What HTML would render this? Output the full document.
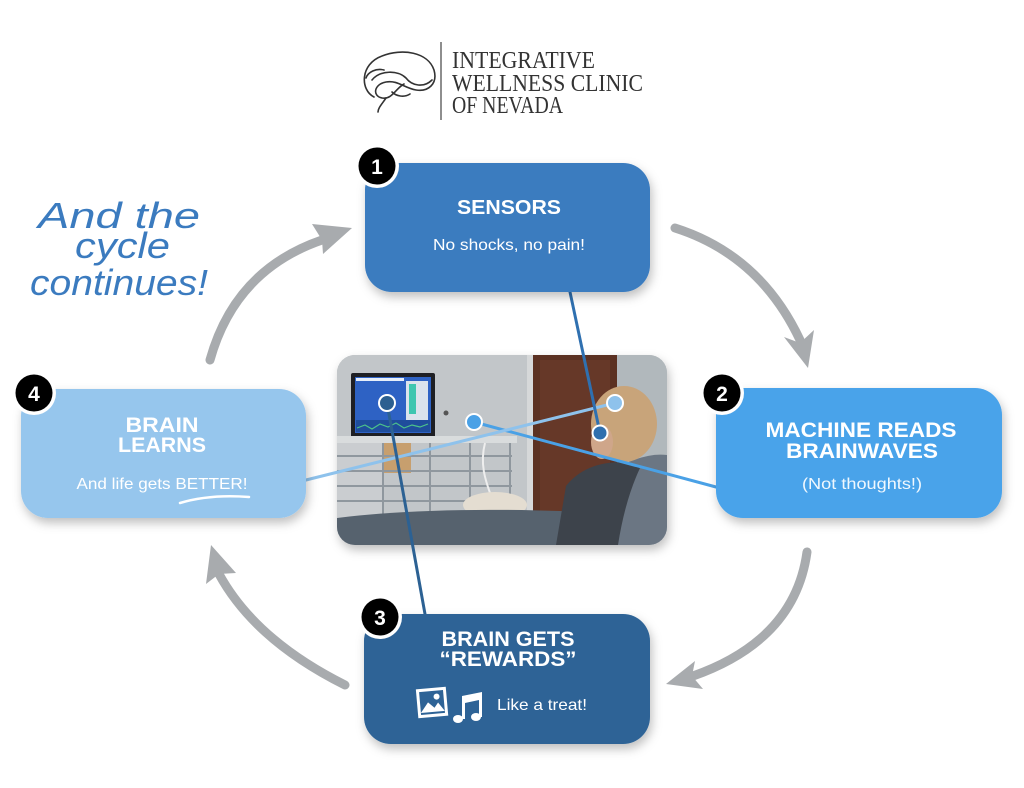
<!DOCTYPE html>
<html><head><meta charset="utf-8"><style>
html,body{margin:0;padding:0;background:#fff;}
svg{display:block;}
</style></head><body>
<svg width="1024" height="788" viewBox="0 0 1024 788" xmlns="http://www.w3.org/2000/svg">
<defs>
<filter id="sh" x="-20%" y="-20%" width="140%" height="160%"><feDropShadow dx="2" dy="5" stdDeviation="5" flood-color="#000" flood-opacity="0.25"/></filter>
<clipPath id="pc"><rect x="337" y="355" width="330" height="190" rx="18"/></clipPath>
</defs>
<rect width="1024" height="788" fill="#fff"/>

<!-- Logo -->
<g fill="none" stroke="#333" stroke-width="1.6" stroke-linecap="round">
<path d="M374,97 C360,90 360,64 382,56 C402,48 428,52 434,70 C438,84 428,92 416,90 C404,88 398,80 386,82 C374,84 372,96 382,98 C392,100 396,88 404,84"/>
<path d="M372,80 C380,70 398,70 406,78 C412,86 424,88 432,80"/>
<path d="M386,98 C382,104 378,108 378,112"/>
<path d="M366,78 C368,72 376,68 384,70"/>
<path d="M392,92 C396,96 404,98 410,94"/>
</g>
<line x1="441" y1="42" x2="441" y2="120" stroke="#444" stroke-width="1.2"/>
<g font-family="'Liberation Serif',serif" font-size="24" fill="#333">
<text x="452" y="68" textLength="143" lengthAdjust="spacingAndGlyphs">INTEGRATIVE</text>
<text x="452" y="91" textLength="191" lengthAdjust="spacingAndGlyphs">WELLNESS CLINIC</text>
<text x="452" y="113" textLength="111" lengthAdjust="spacingAndGlyphs">OF NEVADA</text>
</g>

<!-- Handwritten -->
<g font-family="'Liberation Sans',sans-serif" font-style="italic" font-size="36" fill="#3b7bbf">
<text x="38" y="228" textLength="162" lengthAdjust="spacingAndGlyphs">And the</text>
<text x="75" y="258" textLength="95" lengthAdjust="spacingAndGlyphs">cycle</text>
<text x="30" y="295" textLength="178" lengthAdjust="spacingAndGlyphs">continues!</text>
</g>

<!-- Arrows -->
<g fill="none" stroke="#a8abae" stroke-width="9" stroke-linecap="round">
<path d="M210,360 Q235,270 322,240"/>
<path d="M675,228 Q760,255 800,340"/>
<path d="M807,552 Q795,640 693,676"/>
<path d="M345,685 Q255,640 219,574"/>
</g>
<g fill="#a8abae">
<polygon points="352,228 312,224 322,240 323,254"/>
<polygon points="808,368 784,337 800,343 814,330"/>
<polygon points="666,684 695,661 692,676 703,689"/>
<polygon points="211,545 206,584 219,574 236,573"/>
</g>

<!-- Photo -->
<g filter="url(#sh)"><rect x="337" y="355" width="330" height="190" rx="18" fill="#b9bec2"/></g>
<g clip-path="url(#pc)">
<rect x="337" y="355" width="330" height="190" fill="#bcc1c4"/>
<rect x="337" y="355" width="190" height="190" fill="#c2c6c9"/>
<rect x="527" y="355" width="6" height="175" fill="#d6d8d9"/>
<rect x="533" y="355" width="84" height="175" fill="#5b3122"/>
<rect x="540" y="360" width="70" height="165" fill="#663828"/>
<rect x="617" y="355" width="50" height="190" fill="#b1b8bc"/>
<circle cx="446" cy="413" r="2.5" fill="#555"/>
<rect x="351" y="373" width="84" height="65" rx="2" fill="#1e1f24"/>
<rect x="355" y="377" width="76" height="56" fill="#2e62c4"/>
<rect x="356" y="378" width="48" height="3" fill="#e6eefa"/>
<rect x="406" y="381" width="22" height="40" fill="#dbe3ec"/>
<rect x="409" y="384" width="7" height="30" fill="#3ec6b0"/>
<rect x="356" y="420" width="74" height="12" fill="#1f4d9c"/>
<polyline points="357,428 365,425 372,429 380,424 388,427 396,423 404,428 412,425 420,427 428,424" fill="none" stroke="#4cc38a" stroke-width="1.2"/>
<rect x="337" y="436" width="180" height="7" fill="#d9dcdd"/>
<rect x="337" y="443" width="46" height="85" fill="#cacdd0"/>
<rect x="383" y="443" width="28" height="30" fill="#c79f6e"/>
<g stroke="#8f979e" stroke-width="2">
<line x1="337" y1="456" x2="512" y2="456"/>
<line x1="337" y1="471" x2="512" y2="471"/>
<line x1="337" y1="486" x2="512" y2="486"/>
<line x1="337" y1="501" x2="512" y2="501"/>
<line x1="383" y1="443" x2="383" y2="520"/>
<line x1="430" y1="443" x2="430" y2="520"/>
<line x1="470" y1="443" x2="470" y2="520"/>
<line x1="510" y1="443" x2="510" y2="520"/>
</g>
<path d="M485,443 C478,470 490,490 494,505" fill="none" stroke="#eee" stroke-width="2"/>
<ellipse cx="495" cy="505" rx="32" ry="13" fill="#e4ddd1"/>
<path d="M337,518 Q450,504 625,514 L625,545 L337,545 Z" fill="#56626e"/>
<path d="M612,470 Q645,452 667,455 L667,545 L612,545 Z" fill="#6b7683"/>
<path d="M556,545 L566,486 Q585,462 622,462 L640,468 Q625,500 618,545 Z" fill="#3d434b"/>
<ellipse cx="624" cy="424" rx="33" ry="38" fill="#c8a47a"/>
<ellipse cx="602" cy="442" rx="11" ry="17" fill="#cfa68a"/>
</g>

<!-- Connector lines -->
<g stroke-width="3" stroke-linecap="round">
<line x1="474" y1="422" x2="716" y2="487" stroke="#4aa1e6"/>
<line x1="615" y1="403" x2="306" y2="480" stroke="#8ec2ec"/>
<line x1="570" y1="292" x2="600" y2="433" stroke="#2f70b0"/>
<line x1="387" y1="403" x2="425" y2="614" stroke="#2c6193"/>
</g>
<g stroke="#fff" stroke-width="2">
<circle cx="474" cy="422" r="8" fill="#4aa1e6"/>
<circle cx="615" cy="403" r="8" fill="#8ec2ec"/>
<circle cx="600" cy="433" r="7.5" fill="#2f6fae"/>
<circle cx="387" cy="403" r="8" fill="#2c5f90"/>
</g>

<!-- Boxes -->
<g filter="url(#sh)">
<rect x="365" y="163" width="285" height="129" rx="27" fill="#3a7bbf"/>
<rect x="716" y="388" width="286" height="130" rx="27" fill="#4aa3ea"/>
<rect x="21" y="389" width="285" height="129" rx="27" fill="#96c6ed"/>
<rect x="364" y="614" width="286" height="130" rx="27" fill="#2d6496"/>
</g>

<!-- Box text -->
<g font-family="'Liberation Sans',sans-serif" fill="#fff" text-anchor="middle">
<text x="509" y="214" font-size="20" font-weight="bold" textLength="104" lengthAdjust="spacingAndGlyphs">SENSORS</text>
<text x="509" y="250" font-size="16" textLength="152" lengthAdjust="spacingAndGlyphs">No shocks, no pain!</text>

<text x="861" y="437" font-size="21" font-weight="bold" textLength="191" lengthAdjust="spacingAndGlyphs">MACHINE READS</text>
<text x="862" y="458" font-size="21" font-weight="bold" textLength="152" lengthAdjust="spacingAndGlyphs">BRAINWAVES</text>
<text x="862" y="489" font-size="16" fill-opacity="0.92" textLength="120" lengthAdjust="spacingAndGlyphs">(Not thoughts!)</text>

<text x="162" y="432" font-size="21" font-weight="bold" textLength="73" lengthAdjust="spacingAndGlyphs">BRAIN</text>
<text x="162" y="452" font-size="21" font-weight="bold" textLength="88" lengthAdjust="spacingAndGlyphs">LEARNS</text>
<text x="162" y="489" font-size="16" textLength="171" lengthAdjust="spacingAndGlyphs">And life gets BETTER!</text>

<text x="508" y="646" font-size="21" font-weight="bold" textLength="133" lengthAdjust="spacingAndGlyphs">BRAIN GETS</text>
<text x="508" y="666" font-size="21" font-weight="bold" textLength="137" lengthAdjust="spacingAndGlyphs">“REWARDS”</text>
<text x="542" y="710" font-size="16" textLength="90" lengthAdjust="spacingAndGlyphs">Like a treat!</text>
</g>
<path d="M180,503 Q210,494 249,497" fill="none" stroke="#fff" stroke-width="2.5" stroke-linecap="round"/>

<!-- Icons -->
<g transform="rotate(-5 432 702)">
<rect x="418.5" y="689.5" width="27" height="26" fill="none" stroke="#fff" stroke-width="3"/>
<path d="M420,712 L428,702 L434,708 L438,703 L444,712 Z" fill="#fff"/>
<circle cx="437" cy="697" r="3" fill="#fff"/>
</g>
<g fill="#fff">
<path d="M462,696 L482,692 L482,717 L479,717 L479,700 L465,703 L465,719 L462,719 Z"/>
<ellipse cx="458" cy="719" rx="5" ry="4"/>
<ellipse cx="476" cy="717" rx="5" ry="4"/>
</g>

<!-- Badges -->
<g font-family="'Liberation Sans',sans-serif" font-weight="bold" font-size="21" text-anchor="middle">
<circle cx="377" cy="166" r="22" fill="#fff"/><circle cx="377" cy="166" r="18.5" fill="#000"/>
<text x="377" y="174" fill="#fff">1</text>
<circle cx="722" cy="393" r="22" fill="#fff"/><circle cx="722" cy="393" r="18.5" fill="#000"/>
<text x="722" y="401" fill="#fff">2</text>
<circle cx="380" cy="617" r="22" fill="#fff"/><circle cx="380" cy="617" r="18.5" fill="#000"/>
<text x="380" y="625" fill="#fff">3</text>
<circle cx="34" cy="393" r="22" fill="#fff"/><circle cx="34" cy="393" r="18.5" fill="#000"/>
<text x="34" y="401" fill="#fff">4</text>
</g>
</svg>
</body></html>
